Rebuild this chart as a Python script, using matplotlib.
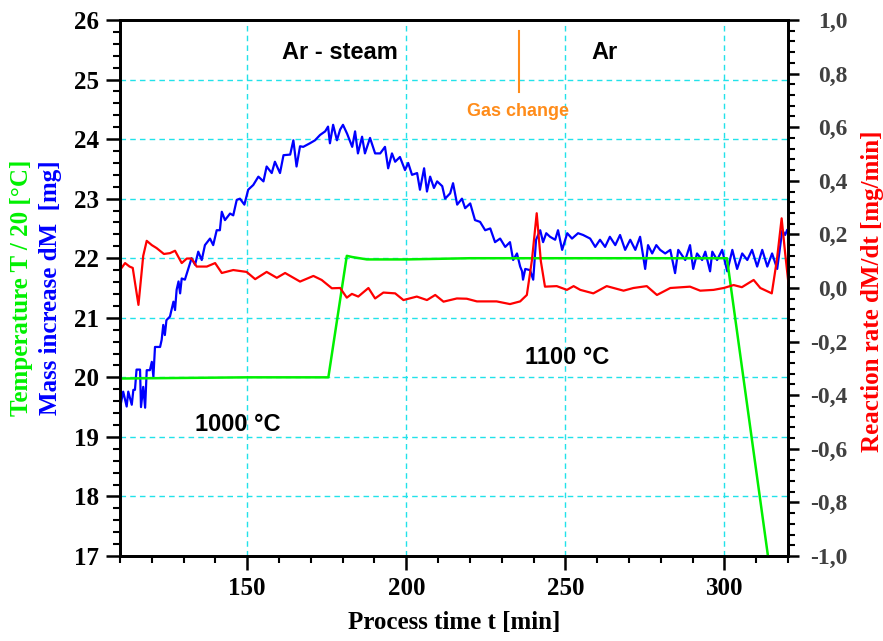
import matplotlib
matplotlib.use('Agg')
import matplotlib.pyplot as plt
from matplotlib.ticker import MultipleLocator, FixedLocator
import numpy as np

# mass increase dM [mg] (left axis)
t_mass = [110, 110.2, 111, 112.1, 112.6, 113.7, 114.2, 114.7, 115.2, 116.3, 116.6, 117.3, 117.9, 118.4,
          119.4, 120, 120.5, 121, 122.6, 123.1, 123.6, 124.1, 124.6, 125.7, 126.8, 127.3, 127.8, 128.4,
          128.9, 129.4, 130.4, 131.5, 132.5, 133.6, 134.6, 135.7, 136.7, 138.3, 139.3, 140.4, 141.4, 142,
          143, 144.6, 145.6, 146.7, 147.7, 149.1, 150.3, 151.9, 153.5, 155.1, 156.1, 157.7, 158.7, 160.3,
          161.4, 163.5, 164.5, 165.5, 166.6, 167.6, 169.7, 171.3, 172.9, 174.5, 175.4, 176, 177, 178.2,
          179.2, 180.1, 181.4, 183, 183.9, 184.8, 186.1, 187, 188.6, 190.2, 191.8, 193.3, 194.3, 195.5,
          196.5, 198, 199.6, 200.6, 201.8, 203.4, 204.3, 205.6, 206.5, 207.5, 208.7, 209.7, 211.3, 212.2,
          213.8, 214.7, 216, 217.5, 218.5, 220.1, 221.6, 223.2, 224.8, 226.4, 227.9, 229.5, 231.1, 232.6,
          233.6, 234.8, 235.8, 236.4, 236.7, 237.4, 238.9, 239.9, 240.8, 242.1, 243, 244, 245.2, 246.8,
          247.7, 249, 250.6, 252.1, 254, 255.6, 257.8, 259.4, 260.9, 262.5, 264, 265.7, 267.2, 268.8,
          270.4, 272, 273.5, 275.1, 276, 277.3, 278.6, 279.8, 281.4, 283, 284.5, 285.5, 287.7, 289.2,
          290.2, 291.4, 293, 294, 295.5, 296.2, 297.7, 299.3, 300.9, 302.5, 304, 305.6, 307.2, 308.7,
          310.3, 311.9, 313.5, 315, 316.6, 318.2, 319.1, 319.7]
mass = [19.26, 19.54, 19.76, 19.51, 19.76, 19.54, 19.79, 19.79, 20.13, 20.13, 19.5, 19.84, 19.49, 20.12,
        20.12, 20.26, 20.01, 20.51, 20.51, 20.63, 20.88, 20.71, 20.96, 21.02, 21.27, 21.13, 21.47, 21.61,
        21.41, 21.66, 21.64, 21.83, 22.0, 21.89, 22.11, 21.97, 22.22, 22.33, 22.22, 22.47, 22.47, 22.78,
        22.64, 22.75, 22.72, 22.98, 23.0, 22.9, 23.15, 23.23, 23.37, 23.29, 23.54, 23.43, 23.62, 23.43,
        23.73, 23.74, 23.98, 23.54, 23.88, 23.87, 23.93, 23.98, 24.07, 24.13, 24.21, 23.93, 24.24, 23.98,
        24.16, 24.24, 24.09, 23.87, 24.13, 23.76, 24.04, 23.76, 24.02, 23.76, 23.76, 23.87, 23.51, 23.76,
        23.62, 23.70, 23.48, 23.6, 23.40, 23.43, 23.15, 23.51, 23.12, 23.37, 23.18, 23.29, 23.21, 23.0,
        23.09, 23.26, 22.9, 23.0, 22.84, 22.92, 22.64, 22.61, 22.47, 22.5, 22.27, 22.33, 22.19, 22.27,
        21.97, 22.08, 21.86, 21.78, 21.64, 21.82, 21.8, 21.64, 22.31, 22.47, 22.27, 22.42, 22.36, 22.31,
        22.47, 22.14, 22.42, 22.33, 22.42, 22.39, 22.33, 22.19, 22.31, 22.19, 22.36, 22.22, 22.39, 22.14,
        22.31, 22.14, 22.36, 21.82, 22.22, 22.08, 22.22, 22.14, 22.08, 22.14, 21.75, 22.14, 21.97, 22.22,
        21.82, 22.08, 21.97, 22.11, 21.78, 22.11, 21.97, 22.14, 21.78, 22.14, 21.82, 22.08, 21.97, 22.14,
        21.86, 22.14, 21.86, 22.08, 21.82, 22.47, 22.39, 22.47]

# temperature / 20 [°C] (left axis)
t_temp = [110, 150, 175.5, 181.3, 183, 187.6, 200, 220, 260, 300.8, 313.7]
temp = [19.98, 20.0, 20.0, 22.04, 22.02, 21.98, 21.98, 22.0, 22.0, 22.0, 17.0]

# reaction rate dM/dt [mg/min] (right axis)
t_rate = [110, 111.6, 113, 114, 115.8, 117.3, 118.4, 120, 121.5, 123.8, 125.7, 127.3, 129.4, 131, 132.5,
          134.1, 137.3, 139.9, 142, 145.6, 149.8, 152.5, 156.1, 159.3, 161.9, 166.6, 170.8, 173.4, 176.6,
          179.2, 181.3, 182.9, 184.9, 188.1, 190.2, 192.8, 196.5, 199.1, 203.3, 206.5, 209.1, 211.7, 215.9,
          219, 222.2, 225.3, 228.4, 232.6, 235.8, 237.9, 239.5, 241, 242.3, 243.6, 247.3, 250.5, 252.6,
          254.7, 258.8, 263.0, 268.3, 271.4, 275.6, 278.8, 283.0, 289.2, 292.4, 296.6, 299.8, 302.9, 305.5,
          309.2, 311.3, 314.9, 316.5, 318.0, 319.1, 320.2]
rate = [0.067, 0.093, 0.08, 0.075, -0.063, 0.12, 0.176, 0.16, 0.149, 0.127, 0.13, 0.139, 0.093, 0.11, 0.11,
        0.08, 0.08, 0.093, 0.056, 0.067, 0.06, 0.033, 0.06, 0.038, 0.056, 0.024, 0.045, 0.03, -0.001,
        0, -0.036, -0.022, -0.032, 0, -0.039, -0.017, -0.02, -0.045, -0.032, -0.045, -0.026, -0.051, -0.039,
        -0.04, -0.05, -0.05, -0.05, -0.06, -0.05, -0.026, 0.104, 0.279, 0.10, 0.005, 0.007, -0.007, 0.007,
        -0.007, -0.02, 0.007, -0.01, 0, 0.007, -0.026, 0, 0.005, -0.01, -0.007, 0, 0.011, 0.003,
        0.03, 0, -0.02, 0.104, 0.26, 0.13, 0.011]

rate_ticks = [-1.0, -0.8, -0.6, -0.4, -0.2, 0.0, 0.2, 0.4, 0.6, 0.8, 1.0]
rate_labels = ['-1,0', '-0,8', '-0,6', '-0,4', '-0,2', '0,0', '0,2', '0,4', '0,6', '0,8', '1,0']

serif = 'Liberation Serif'
sans = 'Liberation Sans'

fig = plt.figure(figsize=(8.83, 6.41), dpi=100)
ax = fig.add_axes([120/883, 1-556/641, 668/883, 536/641])
ax2 = ax.twinx()

ax.plot(t_mass, mass, color='#0000ff', lw=1.6, zorder=3)
ax.plot(t_temp, temp, color='#00f000', lw=1.8, zorder=4)
ax2.plot(t_rate, rate, color='#ff0000', lw=1.6)

ax.set_xlim(110, 320)
ax.set_ylim(17, 26)
ax2.set_ylim(-1, 1)

ax.xaxis.set_major_locator(FixedLocator([150, 200, 250, 300]))
ax.xaxis.set_minor_locator(MultipleLocator(10))
ax.yaxis.set_major_locator(MultipleLocator(1))
ax.yaxis.set_minor_locator(MultipleLocator(0.2))
ax2.yaxis.set_minor_locator(MultipleLocator(0.04))

ax.grid(True, which='major', color='#22e2ea', ls=(0, (4, 3)), lw=1.0)
ax.set_axisbelow(True)

for a in (ax, ax2):
    for s in a.spines.values():
        s.set_linewidth(2)
ax.tick_params(which='major', direction='out', length=10, width=1.8, labelsize=18, pad=5)
ax.tick_params(which='minor', direction='out', length=5, width=1.5)
ax2.tick_params(which='major', direction='out', length=8, width=1.8, labelsize=17, pad=35,
                labelcolor='#404040')
ax2.tick_params(which='minor', direction='out', length=5, width=1.5)

ax.set_xticklabels(['150', '200', '250', '300'])
for lab in ax.get_xticklabels() + ax.get_yticklabels():
    lab.set_fontfamily(serif)
    lab.set_fontweight('bold')
ax2.set_yticks(rate_ticks)
ax2.set_yticklabels(rate_labels)
for lab in ax2.get_yticklabels():
    lab.set_fontfamily(serif)
    lab.set_fontweight('bold')
    lab.set_horizontalalignment('right')

ax.set_xlabel('Process time t [min]', fontfamily=serif, fontweight='bold', fontsize=18, labelpad=8)
fig.text(22/883, 1-288/641, 'Temperature T / 20 [°C]', rotation=90, color='#00f000',
         fontfamily=serif, fontweight='bold', fontsize=18, ha='center', va='center')
fig.text(51/883, 1-288/641, 'Mass increase dM  [mg]', rotation=90, color='#0000ff',
         fontfamily=serif, fontweight='bold', fontsize=18, ha='center', va='center')
fig.text(873/883, 1-291/641, 'Reaction rate dM/dt [mg/min]', rotation=90, color='#ff0000',
         fontfamily=serif, fontweight='bold', fontsize=18, ha='center', va='center')

ax.text(179.2, 25.46, 'Ar - steam', fontfamily=sans, fontweight='bold', fontsize=17, ha='center', va='center')
ax.text(262.2, 25.46, 'Ar', fontfamily=sans, fontweight='bold', fontsize=17, ha='center', va='center')
ax.text(235, 24.46, 'Gas change', fontfamily=sans, fontweight='bold', fontsize=13, color='#ff8c1a',
        ha='center', va='center')
ax.plot([235.5, 235.5], [24.79, 25.82], color='#ff8c1a', lw=1.5)
ax.text(147, 19.2, '1000 °C', fontfamily=sans, fontweight='bold', fontsize=17, ha='center', va='center')
ax.text(250.6, 20.34, '1100 °C', fontfamily=sans, fontweight='bold', fontsize=17, ha='center', va='center')

fig.savefig('out.png', dpi=100)
